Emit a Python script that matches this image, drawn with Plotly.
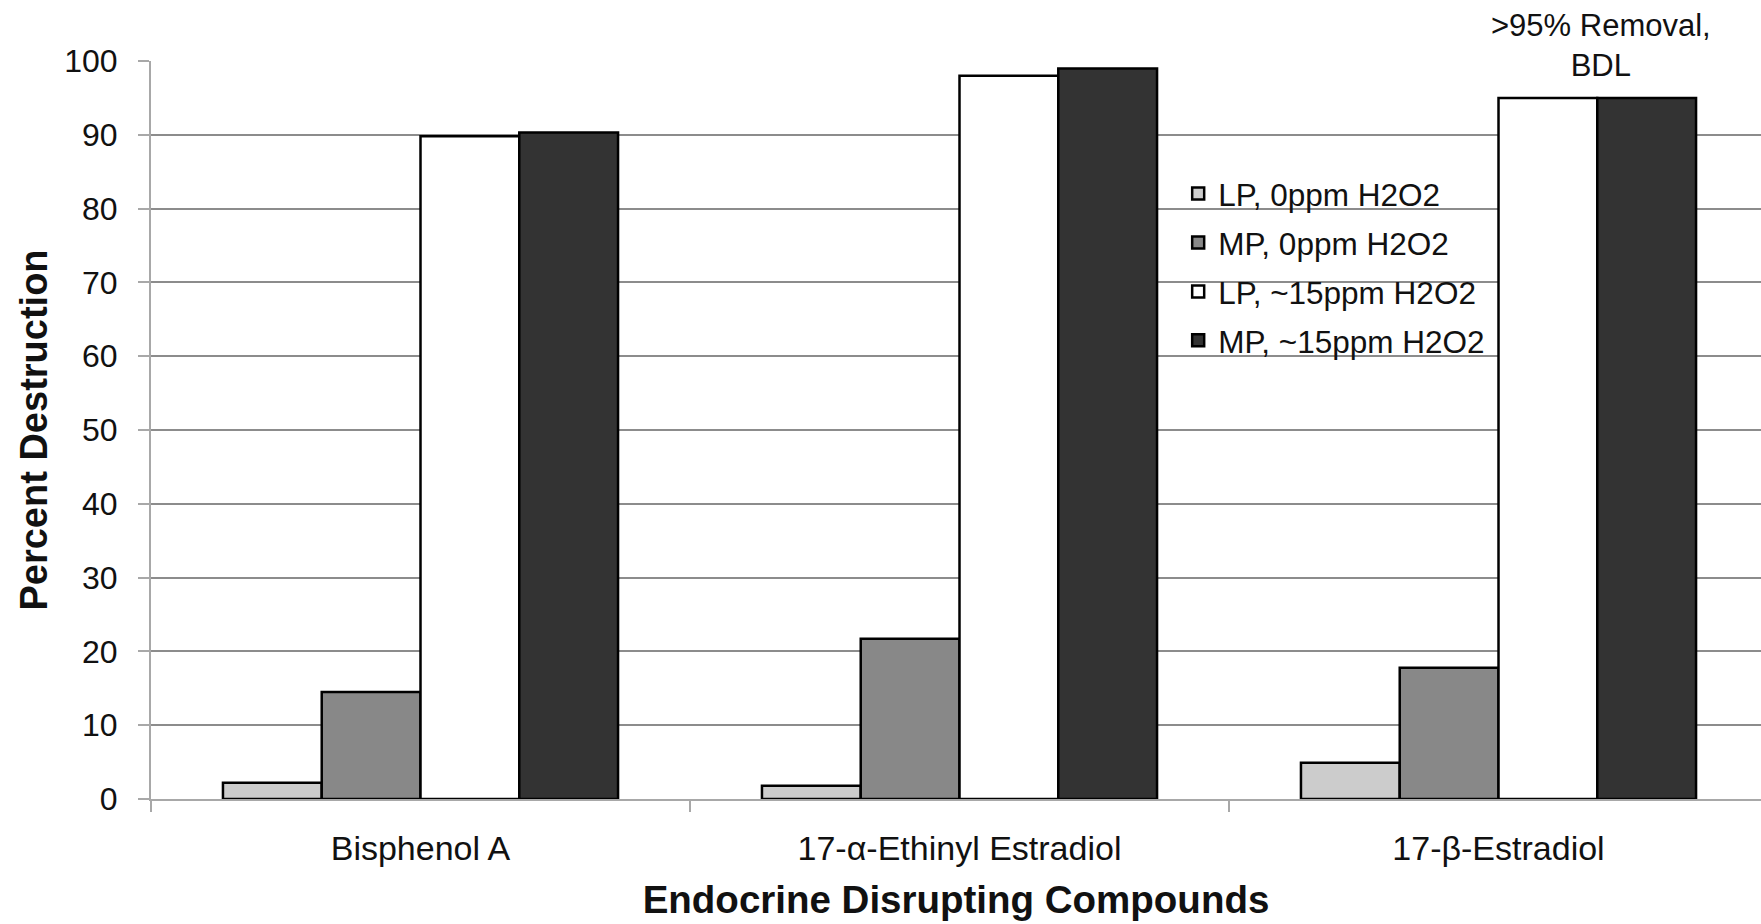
import plotly.graph_objects as go

# Compounds on the x axis
categories = ["Bisphenol A", "17-\u03b1-Ethinyl Estradiol", "17-\u03b2-Estradiol"]

# Percent destruction for each lamp / peroxide condition
series_names = ["LP, 0ppm H2O2", "MP, 0ppm H2O2", "LP, ~15ppm H2O2", "MP, ~15ppm H2O2"]
lp_0ppm = [2.2, 1.8, 4.9]
mp_0ppm = [14.5, 21.7, 17.8]
lp_15ppm = [89.8, 98.0, 95.0]
mp_15ppm = [90.3, 99.0, 95.0]
series_values = [lp_0ppm, mp_0ppm, lp_15ppm, mp_15ppm]
series_colors = ["#cccccc", "#888888", "#ffffff", "#333333"]

y_ticks = list(range(0, 101, 10))

FONT = "Liberation Sans, Arial, sans-serif"

fig = go.Figure()
for i, (name, vals, col) in enumerate(zip(series_names, series_values, series_colors)):
    fig.add_trace(go.Bar(
        x=categories, y=vals, name=name,
        legendgroup=f"g{i}",
        marker=dict(color=col, line=dict(color="#000000", width=2.5)),
    ))

fig.add_annotation(
    x=2.19, y=1.021, xref="x", yref="paper",
    text=">95% Removal,<br>BDL", showarrow=False,
    font=dict(family=FONT, size=31, color="#111111"),
    xanchor="center", yanchor="middle", align="center",
)

fig.update_layout(
    width=1761, height=924,
    margin=dict(l=151, r=0, t=61, b=125, autoexpand=False),
    paper_bgcolor="white", plot_bgcolor="white",
    barmode="group", bargap=0.267, bargroupgap=0,
    font=dict(family=FONT, size=30, color="#111111"),
    showlegend=True,
    legend=dict(
        x=0.638, y=0.857, xanchor="left", yanchor="top",
        bgcolor="rgba(0,0,0,0)", borderwidth=0,
        font=dict(family=FONT, size=31.5, color="#111111"),
        tracegroupgap=5, traceorder="grouped",
    ),
    xaxis=dict(
        type="category", range=[-0.5, 2.487],
        tickson="boundaries", ticks="outside", ticklen=11, tickwidth=2,
        tickcolor="#a8a8a8", showline=True, linecolor="#a8a8a8", linewidth=2,
        showgrid=False, tickfont=dict(family=FONT, size=34, color="#111111"),
        ticklabelstandoff=18,
        title=dict(text="<b>Endocrine Disrupting Compounds</b>",
                   font=dict(family=FONT, size=38.5, color="#111111"), standoff=20),
    ),
    yaxis=dict(
        range=[0, 100], tickvals=y_ticks, ticks="outside", ticklen=11, tickwidth=2,
        tickcolor="#a8a8a8", showline=True, linecolor="#a8a8a8", linewidth=2,
        showgrid=True, gridcolor="#8c8c8c", gridwidth=2, zeroline=False,
        tickfont=dict(family=FONT, size=32, color="#111111"),
        ticklabelstandoff=14,
        title=dict(text="<b>Percent Destruction</b>",
                   font=dict(family=FONT, size=38, color="#111111"), standoff=5),
    ),
)

fig.write_html("out.html")
